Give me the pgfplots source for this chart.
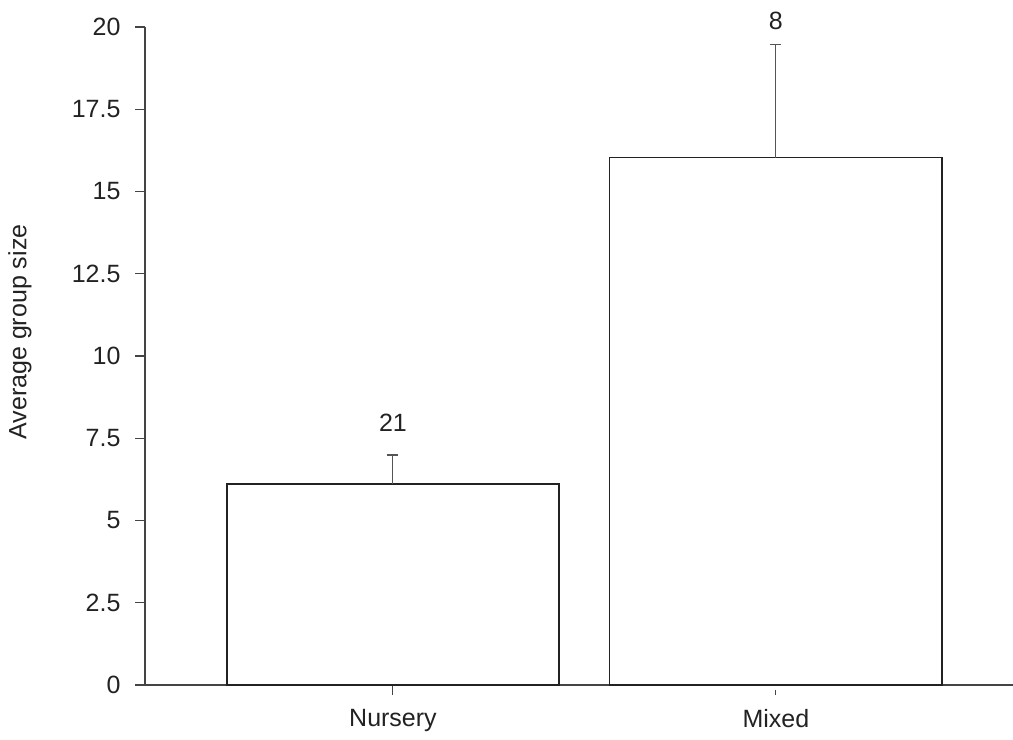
\documentclass[border=0pt]{standalone}
\usepackage{pgfplots}
\pgfplotsset{compat=1.18}
\usepackage{fontspec}
\setmainfont{Liberation Sans}
\definecolor{txt}{HTML}{222222}
\definecolor{axc}{HTML}{444444}
\definecolor{erc}{HTML}{555555}
\newcommand{\fs}{\fontsize{25bp}{29bp}\selectfont}
\begin{document}
\fs
\begin{tikzpicture}
\useasboundingbox (0,0) rectangle (1013bp,-740bp);
\begin{axis}[
  at={(145bp,-685bp)}, anchor=south west,
  scale only axis,
  width=868bp, height=658bp,
  xmin=-0.6475, xmax=1.619,
  ymin=0, ymax=20,
  axis lines=left,
  axis line style={-, color=axc, line width=1.3bp},
  xtick={0,1}, xticklabels={Nursery,Mixed},
  ytick={0,2.5,5,7.5,10,12.5,15,17.5,20},
  yticklabels={0,2.5,5,7.5,10,12.5,15,17.5,20},
  tick align=outside,
  major tick length=10bp,
  x tick style={color=axc, line width=1bp, shorten >=5bp},
  y tick style={color=axc, line width=1.3bp},
  tick label style={color=txt, font=\fs},
  yticklabel style={xshift=-6bp},
  xticklabel style={yshift=-6bp},
  /pgf/number format/assume math mode=true,
  clip=false,
]
\addplot[ybar, bar width=332bp, draw=txt, line width=1.1bp, fill=white,
  error bars/.cd, y dir=plus, y explicit,
  error bar style={color=erc, line width=1bp},
  error mark options={rotate=90, mark size=5.5bp, line width=1.1bp, color=erc}]
  coordinates {(0,6.11) +- (0,0.88) (1,16.02) +- (0,3.44)};
\node[color=txt, font=\fs] at (axis cs:0,7.96) {21};
\node[color=txt, font=\fs] at (axis cs:1,20.18) {8};
\end{axis}
\node[rotate=90, color=txt] at (20bp,-332bp) {Average group size};
\end{tikzpicture}
\end{document}
